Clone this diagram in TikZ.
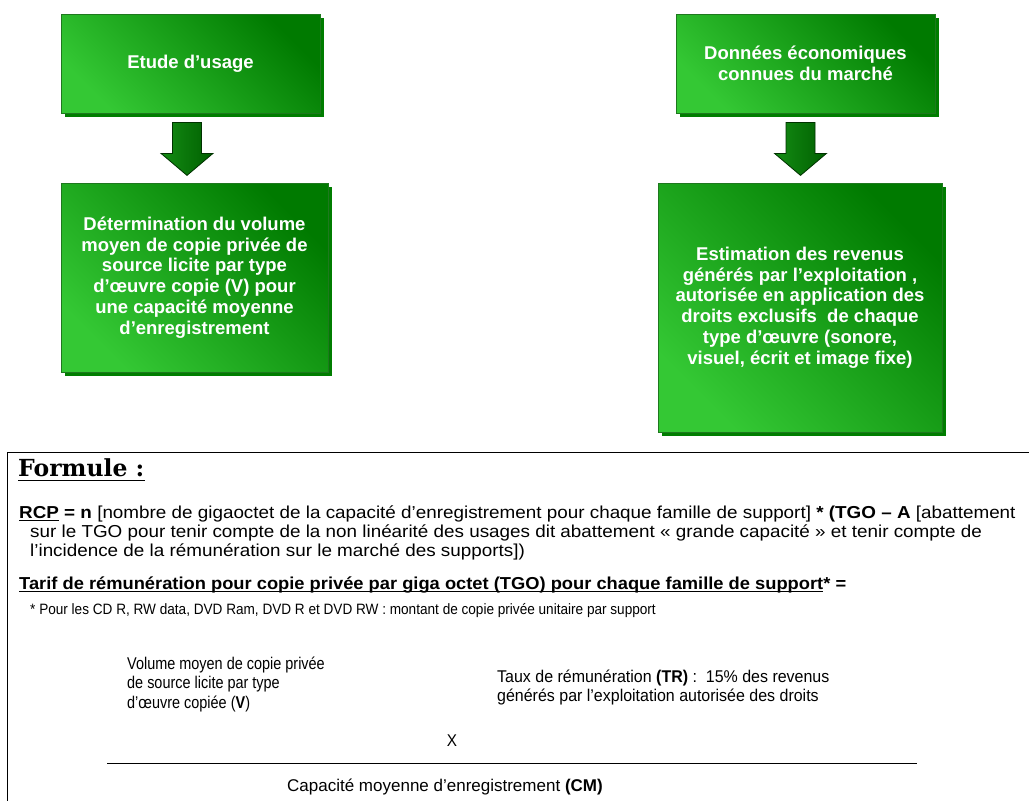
\documentclass[tikz,border=0pt]{standalone}
\usepackage{fontspec}
\setmainfont{Liberation Sans}
\newfontfamily\serifbold{DejaVu Serif}
\usetikzlibrary{calc,shadows}
\definecolor{gdark}{RGB}{0,122,0}
\definecolor{glight}{RGB}{52,200,52}
\definecolor{gshadow}{RGB}{0,125,0}
\definecolor{gborder}{RGB}{30,120,30}
\definecolor{adark}{RGB}{0,95,0}
\definecolor{alight}{RGB}{20,140,20}
\definecolor{aline}{RGB}{0,50,0}
\newcommand\boxfont{\bfseries\fontsize{18.5}{20.8}\selectfont}
\newcommand\ftxt{\fontsize{17.3}{19}\selectfont}
\newcommand\wide[1]{\scalebox{1.09}[1]{#1}}
\newcommand\myul[1]{\setbox0\hbox{#1}\rlap{\rule[-2.4pt]{\wd0}{0.9pt}}\box0\relax}
\tikzset{
  gbox/.style={draw=gborder, line width=0.8pt, top color=gdark, bottom color=glight, shading angle=-45,
    general shadow={fill=gshadow, shadow xshift=3.5pt, shadow yshift=-3.5pt},
    text=white, font=\boxfont, align=center, inner sep=0pt},
  bigarrow/.style={draw=aline, line width=0.8pt, left color=alight, right color=adark},
  txt/.style={anchor=base west, inner sep=0pt, font=\ftxt},
  ntxt/.style={anchor=base west, inner sep=0pt, font=\fontsize{17}{19.5}\selectfont},
}
\begin{document}
\begin{tikzpicture}[x=1pt,y=-1pt]
\useasboundingbox (0,0) rectangle (1029,801);
\fill[white] (0,0) rectangle (1029,801);

% green boxes
\node[gbox, minimum width=259pt, minimum height=99pt] (e) at (190.5,63.5) {Etude d’usage};
\node[gbox, minimum width=259pt, minimum height=99pt] (d) at (805.5,63.5) {Données économiques\\connues du marché};
\node[gbox, minimum width=267pt, minimum height=189pt] (v) at (194.5,277.5)
  {Détermination du volume\\moyen de copie privée de\\source licite par type\\d’œuvre copie (V) pour\\une capacité moyenne\\d’enregistrement};
\node[gbox, minimum width=284pt, minimum height=249pt] (r) at (800,307.5)
  {Estimation des revenus\\générés par l’exploitation ,\\autorisée en application des\\droits exclusifs~ de chaque\\type d’œuvre (sonore,\\visuel, écrit et image fixe)};

% block arrows
\begin{scope}[shift={($(e.south)+(-3.5,9)$)}]
  \draw[bigarrow] (-14.5,0) -- (14.5,0) -- (14.5,31) -- (26,31) -- (0,53) -- (-26,31) -- (-14.5,31) -- cycle;
\end{scope}
\begin{scope}[shift={($(d.south)+(-5,9)$)}]
  \draw[bigarrow] (-14.5,0) -- (14.5,0) -- (14.5,31) -- (26,31) -- (0,53) -- (-26,31) -- (-14.5,31) -- cycle;
\end{scope}

% formula frame
\draw[line width=1pt] (7,452) rectangle (1045,815);

\node[anchor=base west, inner sep=0pt, font=\serifbold\bfseries\fontsize{23.5}{28}\selectfont] (ft) at (18,476) {Formule :};
\draw[line width=1.8pt] ($(ft.base west)+(0,4.5)$) -- ($(ft.base east)+(0,4.5)$);

\node[txt] (l1) at (19,518) {\wide{\myul{\textbf{RCP}} \textbf{= n} [nombre de gigaoctet de la capacité d’enregistrement pour chaque famille de support] \textbf{* (TGO – A} [abattement}};
\node[txt] (l2) at (30,537) {\wide{sur le TGO pour tenir compte de la non linéarité des usages dit abattement « grande capacité » et tenir compte de}};
\node[txt] (l3) at (30,556) {\wide{l’incidence de la rémunération sur le marché des supports])}};
\node[txt] (l4) at (19,589) {\scalebox{1.058}[1]{\textbf{\myul{Tarif de rémunération pour copie privée par giga octet (TGO) pour chaque famille de support}* =}}};

\node[txt, font=\fontsize{15}{17}\selectfont] (fn) at (30,614) {\scalebox{0.906}[1]{* Pour les CD R, RW data, DVD Ram, DVD R et DVD RW : montant de copie privée unitaire par support}};

\node[ntxt] (vol) at (127,669)
  {\scalebox{0.85}[1]{\begin{tabular}[t]{@{}l@{}}Volume moyen de copie privée\\de source licite par type\\d’œuvre copiée (\textbf{V})\end{tabular}}};
\node[ntxt] (tr) at (497,682)
  {\scalebox{0.94}[1]{\begin{tabular}[t]{@{}l@{}}Taux de rémunération \textbf{(TR)} :~ 15\% des revenus\\générés par l'exploitation autorisée des droits\end{tabular}}};
\node[anchor=base, inner sep=0pt, font=\fontsize{17}{19.5}\selectfont] (x) at (452,746) {\scalebox{0.9}[1]{X}};

\coordinate (b1) at (107,763);
\coordinate (b2) at (917,763);
\draw[line width=1pt] (b1) -- (b2);

\node[ntxt] (cm) at (287,791) {Capacité moyenne d’enregistrement \textbf{(CM)}};
\end{tikzpicture}
\end{document}
